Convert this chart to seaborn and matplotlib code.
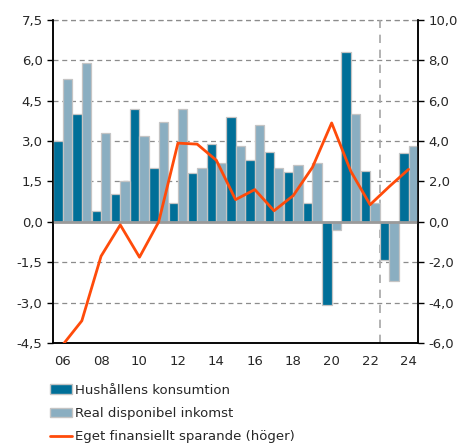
import numpy as np
import pandas as pd
import matplotlib
matplotlib.use("Agg")
import matplotlib.pyplot as plt
import seaborn as sns
from matplotlib.patches import Patch
from matplotlib.lines import Line2D

years = list(range(2006, 2025))
konsumtion = [3.0, 4.0, 0.4, 1.05, 4.2, 2.0, 0.7, 1.8, 2.9, 3.9, 2.3, 2.6, 1.85, 0.7,
              -3.1, 6.3, 1.9, -1.4, 2.55]
inkomst = [5.3, 5.9, 3.3, 1.5, 3.2, 3.7, 4.2, 2.0, 2.2, 2.8, 3.6, 2.0, 2.1, 2.2,
           -0.3, 4.0, 0.7, -2.2, 2.8]
sparande = [-6.1, -4.9, -1.7, -0.15, -1.75, 0.0, 3.9, 3.85, 3.05, 1.1, 1.6, 0.55, 1.3, 2.7,
            4.9, 2.5, 0.85, 1.75, 2.6]
series_names = ["Hushållens konsumtion", "Real disponibel inkomst"]
line_name = "Eget finansiellt sparande (höger)"
left_ticks = [-4.5, -3.0, -1.5, 0.0, 1.5, 3.0, 4.5, 6.0, 7.5]
right_ticks = [-6.0, -4.0, -2.0, 0.0, 2.0, 4.0, 6.0, 8.0, 10.0]

dark = "#006f98"
light = "#8aaec1"
orange = "#ff4b0a"
edge = "#c4c4c4"

df = pd.DataFrame({
    "year": years * 2,
    "value": konsumtion + inkomst,
    "series": [series_names[0]] * len(years) + [series_names[1]] * len(years),
})

sns.set_style("white")
plt.rcParams["font.family"] = ["DejaVu Sans"]

fig = plt.figure(figsize=(4.61, 4.44), dpi=100)
ax = fig.add_axes([0.115, 0.2275, 0.792, 0.7275])

sns.barplot(data=df, x="year", y="value", hue="series", palette=[dark, light],
            width=0.98, edgecolor=edge, linewidth=0.9, ax=ax, legend=False,
            saturation=1, zorder=3)

ax.set_ylim(-4.5, 7.5)
ax.set_yticks(left_ticks)
ax.set_yticklabels([f"{t:.1f}".replace(".", ",") for t in left_ticks], fontsize=9.5)
for t in left_ticks:
    if t != 0 and t != -4.5:
        ax.axhline(t, color="#8c8c8c", lw=0.9, ls=(0, (4, 3)), zorder=1)
ax.axhline(0, color="#9a9a9a", lw=2, zorder=4)
ax.axvline(16.5, color="#a6a6a6", lw=1.2, ls=(0, (5, 4)), zorder=2)

pos = np.arange(len(years))
ax.set_xticks(pos[::2])
ax.set_xticklabels([f"{y % 100:02d}" for y in years[::2]], fontsize=9.5)
ax.set_xlim(-0.5, len(years) - 0.5)
ax.set_xlabel("")
ax.set_ylabel("")
ax.tick_params(axis="x", length=0, pad=9)
ax.tick_params(axis="y", length=4, width=1, color="black", left=True)

ax2 = ax.twinx()
sns.lineplot(x=pos, y=sparande, color=orange, lw=2, ax=ax2, zorder=5)
ax2.set_ylim(-6, 10)
ax2.set_yticks(right_ticks)
ax2.set_yticklabels([f"{t:.1f}".replace(".", ",") for t in right_ticks], fontsize=9.5)
ax2.tick_params(axis="y", length=4, width=1, color="black", right=True)

for a in (ax, ax2):
    a.spines["top"].set_visible(False)
    for s in ("left", "right", "bottom"):
        a.spines[s].set_color("black")
        a.spines[s].set_linewidth(1.1)
ax.axhline(7.5, color="#8c8c8c", lw=0.9, ls=(0, (4, 3)), zorder=1, clip_on=False)

handles = [
    Patch(facecolor=dark, edgecolor=edge, label=series_names[0]),
    Patch(facecolor=light, edgecolor=edge, label=series_names[1]),
    Line2D([0], [0], color=orange, lw=2, label=line_name),
]
fig.legend(handles=handles, loc="upper left", bbox_to_anchor=(0.097, 0.148),
           frameon=False, fontsize=9.5, handlelength=1.7, handleheight=0.7,
           handletextpad=0.2, labelspacing=0.78, borderaxespad=0)

fig.savefig("out.png", dpi=100)
